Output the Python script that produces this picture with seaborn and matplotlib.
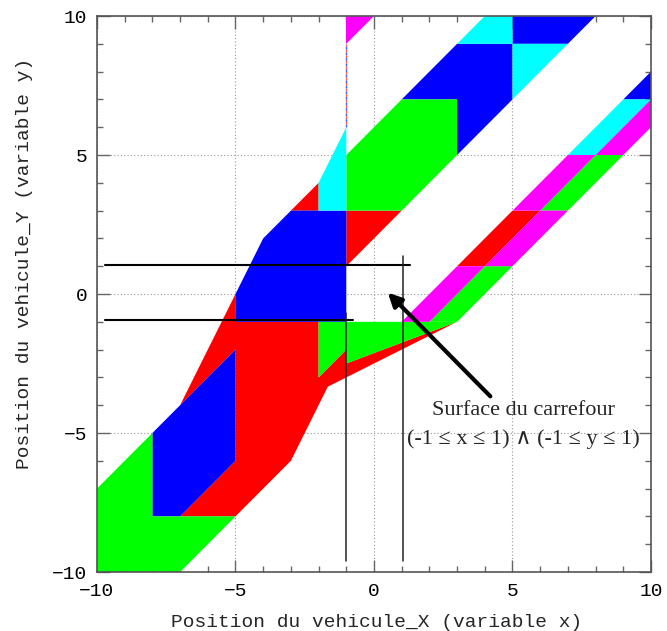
import matplotlib.pyplot as plt
import seaborn as sns
from matplotlib.ticker import MultipleLocator

sns.set_theme(style="ticks")
plt.rcParams["font.family"] = ["Liberation Mono", "DejaVu Sans Mono"]

# Regions of the (x, y) plane, vertices
red_regions = [
    [(-7, -4), (-5, 0), (-5, -1), (-2, -1), (-2, -3), (-1, -2), (-1, -2.5), (3, -1),
     (-5 / 3, -10 / 3), (-3, -6), (-5, -8), (-7, -8), (-5, -6), (-5, -2)],
    [(-2, 4), (-3, 3), (-2, 3)],
    [(-1, 3), (1, 3), (-1, 1)],
    [(3, 1), (5, 3), (6, 3), (4, 1)],
]
blue_regions = [
    [(-1, 3), (-3, 3), (-4, 2), (-5, 0), (-5, -1), (-1, -1)],
    [(-8, -5), (-7, -4), (-5, -2), (-5, -6), (-7, -8), (-8, -8)],
    [(1, 7), (3, 9), (5, 9), (5, 7), (3, 5), (3, 7)],
    [(5, 10), (8, 10), (7, 9), (5, 9)],
    [(9, 7), (10, 8), (10, 7)],
]
green_regions = [
    [(-10, -7), (-8, -5), (-8, -8), (-5, -8), (-7, -10), (-10, -10)],
    [(-2, -1), (-2, -3), (-1, -2), (-1, -2.5), (3, -1)],
    [(-1, 3), (1, 3), (3, 5), (3, 7), (1, 7), (-1, 5)],
    [(2, -1), (4, 1), (5, 1), (3, -1)],
    [(6, 3), (8, 5), (9, 5), (7, 3)],
]
cyan_regions = [
    [(-1, 6), (-2, 4), (-2, 3), (-1, 3)],
    [(3, 9), (4, 10), (5, 10), (5, 9)],
    [(5, 9), (7, 9), (5, 7)],
    [(7, 5), (9, 7), (10, 7), (8, 5)],
]
magenta_regions = [
    [(-1, 9), (-1, 10), (0, 10)],
    [(1, -1), (3, 1), (4, 1), (2, -1)],
    [(4, 1), (6, 3), (7, 3), (5, 1)],
    [(5, 3), (7, 5), (8, 5), (6, 3)],
    [(8, 5), (10, 7), (10, 6), (9, 5)],
]

# hand drawn lines marking the crossing
hline_y = [1.06, -0.92]
hline_x0 = [-9.7, -9.7]
hline_x1 = [1.3, -0.75]
vline_x = [-1.0, 1.03]
vline_y0 = [-9.6, -9.6]
vline_y1 = [-0.7, 1.35]

fig, ax = plt.subplots(figsize=(6.67, 6.31), dpi=100)
fig.subplots_adjust(left=0.1454, right=0.976, bottom=0.0935, top=0.9746)

for color, regions in [("#ff0000", red_regions), ("#0000ff", blue_regions),
                       ("#00ff00", green_regions), ("#00ffff", cyan_regions),
                       ("#ff00ff", magenta_regions)]:
    for poly in regions:
        xs, ys = zip(*poly)
        ax.fill(xs, ys, color=color, lw=0, zorder=2)

# coloured dashed edge left over at x = -1
ax.plot([-1, -1], [6, 9], color="#4060ff", lw=1, ls=(0, (2, 2)), zorder=3)
ax.plot([-1, -1], [6, 9], color="#ff6060", lw=1, ls=(2, (2, 2)), zorder=3)

for y, x0, x1 in zip(hline_y, hline_x0, hline_x1):
    ax.plot([x0, x1], [y, y], color="black", lw=1.5, zorder=4)
for x, y0, y1 in zip(vline_x, vline_y0, vline_y1):
    ax.plot([x, x], [y0, y1], color="#222222", lw=1.1, zorder=4)

ax.annotate("", xy=(0.5, 0.05), xytext=(4.2, -3.68),
            arrowprops=dict(arrowstyle="-|>", color="black", lw=3,
                            mutation_scale=20, shrinkA=0, shrinkB=0),
            zorder=5)
serif = ["Liberation Serif", "DejaVu Serif"]
ax.text(5.38, -4.19, "Surface du carrefour", ha="center", va="center",
        fontsize=16, family=serif, zorder=5)
ax.text(5.38, -5.22, "(-1 \u2264 x \u2264 1) \u2227 (-1 \u2264 y \u2264 1)", ha="center",
        va="center", fontsize=16, family=serif, zorder=5)

ax.set_xlim(-10, 10)
ax.set_ylim(-10, 10)
ax.set_xticks([-10, -5, 0, 5, 10])
ax.set_yticks([-10, -5, 0, 5, 10])
ax.xaxis.set_minor_locator(MultipleLocator(1))
ax.yaxis.set_minor_locator(MultipleLocator(1))
ax.tick_params(which="both", direction="in", top=True, right=True,
               color="#666666", labelsize=14, labelcolor="black")
ax.tick_params(which="major", length=9, width=1)
ax.tick_params(which="minor", length=4.5, width=1)
ax.tick_params(axis="x", pad=8)
ax.tick_params(axis="y", pad=7)
ax.grid(True, which="major", ls=(0, (1, 2)), color="#999999", lw=0.8, zorder=0)
ax.set_axisbelow(True)
for spine in ax.spines.values():
    spine.set_color("#555555")
    spine.set_linewidth(1.2)

ax.set_xlabel("Position du vehicule_X (variable x)", fontsize=14)
ax.set_ylabel("Position du vehicule_Y (variable y)", fontsize=14)
ax.xaxis.set_label_coords(0.504, -0.075)
ax.yaxis.set_label_coords(-0.115, 0.555)

fig.savefig("out.png", dpi=100)
